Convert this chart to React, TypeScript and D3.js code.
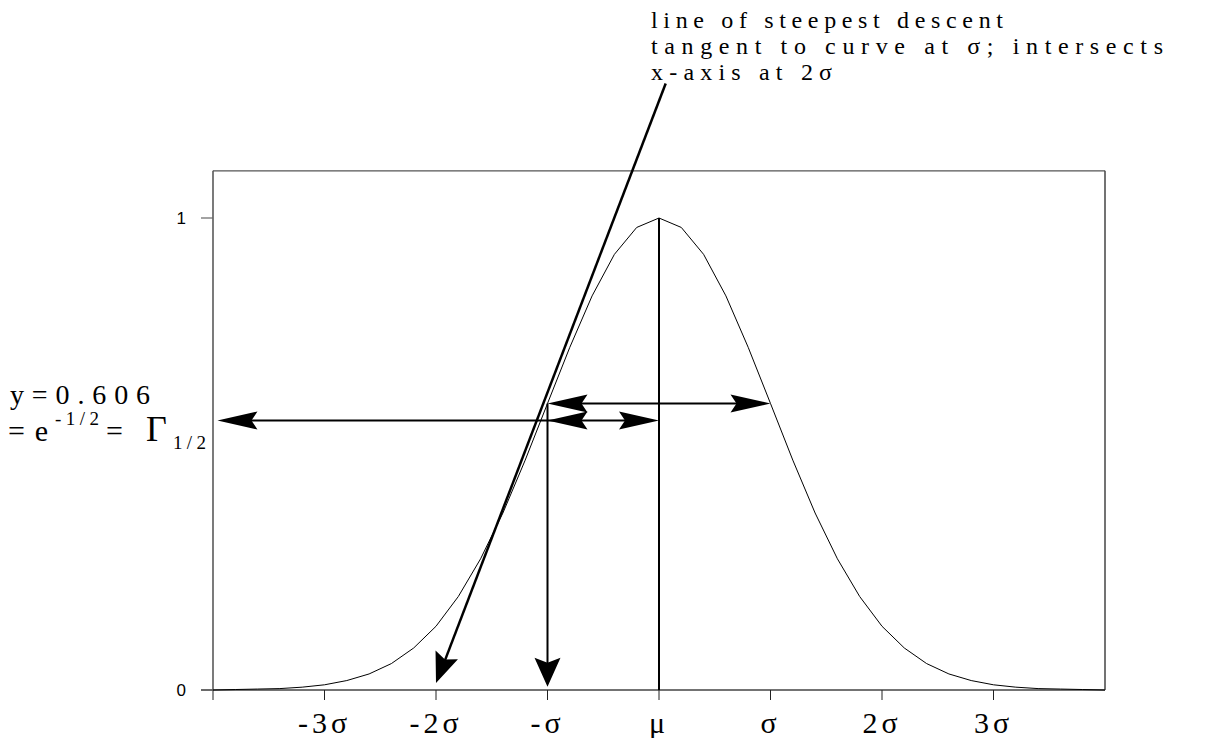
import React from "react";
import * as d3 from "d3";

const W = 1215;
const H = 738;

// gaussian curve (x in sigma units)
const curveX = [
  -4, -3.8, -3.6, -3.4, -3.2, -3, -2.8, -2.6, -2.4, -2.2, -2, -1.8, -1.6, -1.4,
  -1.2, -1, -0.8, -0.6, -0.4, -0.2, 0, 0.2, 0.4, 0.6, 0.8, 1, 1.2, 1.4, 1.6,
  1.8, 2, 2.2, 2.4, 2.6, 2.8, 3, 3.2, 3.4, 3.6, 3.8, 4,
];
const curveY = [
  0.0, 0.001, 0.002, 0.003, 0.006, 0.011, 0.02, 0.034, 0.056, 0.089, 0.135,
  0.198, 0.278, 0.375, 0.487, 0.607, 0.726, 0.835, 0.923, 0.98, 1.0, 0.98,
  0.923, 0.835, 0.726, 0.607, 0.487, 0.375, 0.278, 0.198, 0.135, 0.089, 0.056,
  0.034, 0.02, 0.011, 0.006, 0.003, 0.002, 0.001, 0.0,
];

const xTickValues = [-4, -3, -2, -1, 0, 1, 2, 3];
const xLabelValues = [-3, -2, -1, 0, 1, 2, 3];
const xLabelTexts = ["-3σ", "-2σ", "-σ", "μ", "σ", "2σ", "3σ"];
const yTickValues = [0, 1];
const yTickLabels = ["0", "1"];

// annotation geometry in data units
const upperLevel = 0.607; // arrow from -σ to σ
const lowerLevel = 0.571; // arrows from left edge to -σ to μ
const longTip = -3.96;
const downTip = 0.007;
const tangentTop: [number, number] = [0.06, 1.285];
const tangentTip: [number, number] = [-2, 0.015];

const noteLines = [
  "line of steepest descent",
  "tangent to curve at σ; intersects",
  "x-axis at 2σ",
];
const noteWidths = [352, 512, 181];

const serif = "'Liberation Serif', 'Times New Roman', Times, serif";

function head(
  tx: number,
  ty: number,
  fx: number,
  fy: number,
  len: number,
  half: number,
  notch: number
) {
  const dx = tx - fx;
  const dy = ty - fy;
  const d = Math.hypot(dx, dy);
  const ux = dx / d;
  const uy = dy / d;
  const px = -uy;
  const py = ux;
  const bx = tx - ux * len;
  const by = ty - uy * len;
  const nx = tx - ux * (len - notch);
  const ny = ty - uy * (len - notch);
  return [
    [tx, ty],
    [bx + px * half, by + py * half],
    [nx, ny],
    [bx - px * half, by - py * half],
  ]
    .map((p) => p.join(","))
    .join(" ");
}

export default function App() {
  const x = d3.scaleLinear().domain([-4, 4]).range([213, 1105]);
  const y = d3.scaleLinear().domain([0, 1]).range([690, 218]);
  const top = y(1.1);

  const line = d3
    .line<number>()
    .x((_, i) => x(curveX[i]))
    .y((d) => y(d));

  const yu = y(upperLevel);
  const yl = y(lowerLevel);
  const hL = 40,
    hW = 9,
    hN = 6;

  return (
    <svg
      width={W}
      height={H}
      style={{ position: "absolute", left: 0, top: 0, background: "#fff" }}
    >
      {/* frame */}
      <line x1={x(-4)} x2={x(-4)} y1={top} y2={y(0)} stroke="#222" strokeWidth={1.2} />
      <line x1={x(-4)} x2={x(4)} y1={top} y2={top} stroke="#555" strokeWidth={1.2} />
      <line x1={x(4)} x2={x(4)} y1={top} y2={y(0)} stroke="#444" strokeWidth={1.5} />
      <line x1={201} x2={x(4)} y1={y(0)} y2={y(0)} stroke="#444" strokeWidth={1.5} />

      {/* ticks */}
      {xTickValues.map((v) => (
        <line key={"xt" + v} x1={x(v)} x2={x(v)} y1={y(0)} y2={y(0) + 10} stroke="#222" strokeWidth={1} />
      ))}
      {yTickValues.map((v, i) => (
        <g key={"yt" + v}>
          <line x1={201} x2={x(-4)} y1={y(v)} y2={y(v)} stroke="#666" strokeWidth={1.2} />
          <text
            x={186}
            y={y(v)}
            dy="0.36em"
            textAnchor="end"
            style={{ fontFamily: "'Liberation Sans', Arial, sans-serif", fontSize: "17px" }}
          >
            {yTickLabels[i]}
          </text>
        </g>
      ))}
      {xLabelValues.map((v, i) => (
        <text
          key={"xl" + v}
          x={x(v)}
          y={733}
          textAnchor="middle"
          style={{ fontFamily: serif, fontSize: "30px", letterSpacing: "4px" }}
        >
          {xLabelTexts[i]}
        </text>
      ))}

      {/* gaussian */}
      <path d={line(curveY) || ""} fill="none" stroke="#000" strokeWidth={1} />

      {/* mean line */}
      <line x1={x(0)} x2={x(0)} y1={y(1)} y2={y(0)} stroke="#000" strokeWidth={2} />

      {/* vertical arrow at -σ */}
      <line x1={x(-1)} x2={x(-1)} y1={yu} y2={y(downTip) - 20} stroke="#000" strokeWidth={2} />
      <polygon points={head(x(-1), y(downTip), x(-1), yu, 29, 13, 5)} fill="#000" />

      {/* upper double arrow -σ .. σ */}
      <line x1={x(-1) + 20} x2={x(1) - 20} y1={yu} y2={yu} stroke="#000" strokeWidth={2} />
      <polygon points={head(x(-1), yu, x(1), yu, hL, hW, hN)} fill="#000" />
      <polygon points={head(x(1), yu, x(-1), yu, hL, hW, hN)} fill="#000" />

      {/* lower arrows */}
      <line x1={x(longTip) + 20} x2={x(0) - 20} y1={yl} y2={yl} stroke="#000" strokeWidth={2} />
      <polygon points={head(x(longTip), yl, x(0), yl, hL, hW, hN)} fill="#000" />
      <polygon points={head(x(-1), yl, x(0), yl, hL, hW, hN)} fill="#000" />
      <polygon points={head(x(0), yl, x(-1), yl, hL, hW, hN)} fill="#000" />

      {/* tangent line */}
      <line
        x1={x(tangentTop[0])}
        y1={y(tangentTop[1])}
        x2={x(tangentTip[0]) + 8}
        y2={y(tangentTip[1]) - 20}
        stroke="#000"
        strokeWidth={2.5}
      />
      <polygon
        points={head(
          x(tangentTip[0]),
          y(tangentTip[1]),
          x(tangentTop[0]),
          y(tangentTop[1]),
          30,
          12,
          5
        )}
        fill="#000"
      />

      {/* annotation */}
      {noteLines.map((t, i) => (
        <text
          key={"n" + i}
          x={651}
          y={28 + i * 26}
          style={{ fontFamily: serif, fontSize: "24px" }}
          textLength={noteWidths[i]}
          lengthAdjust="spacing"
        >
          {t}
        </text>
      ))}

      {/* left label */}
      <text x={10} y={404} style={{ fontFamily: serif, fontSize: "28px" }} textLength={140} lengthAdjust="spacing">
        y=0.606
      </text>
      <text x={8} y={441} style={{ fontFamily: serif, fontSize: "30px" }} textLength={40} lengthAdjust="spacing">
        =e
      </text>
      <text x={55} y={425} style={{ fontFamily: serif, fontSize: "19px" }} textLength={44} lengthAdjust="spacing">
        -1/2
      </text>
      <text x={106} y={441} style={{ fontFamily: serif, fontSize: "30px" }}>
        =
      </text>
      <text x={146} y={441} style={{ fontFamily: serif, fontSize: "36px" }}>
        Γ
      </text>
      <text x={173} y={449} style={{ fontFamily: serif, fontSize: "19px" }} textLength={33} lengthAdjust="spacing">
        1/2
      </text>
    </svg>
  );
}
